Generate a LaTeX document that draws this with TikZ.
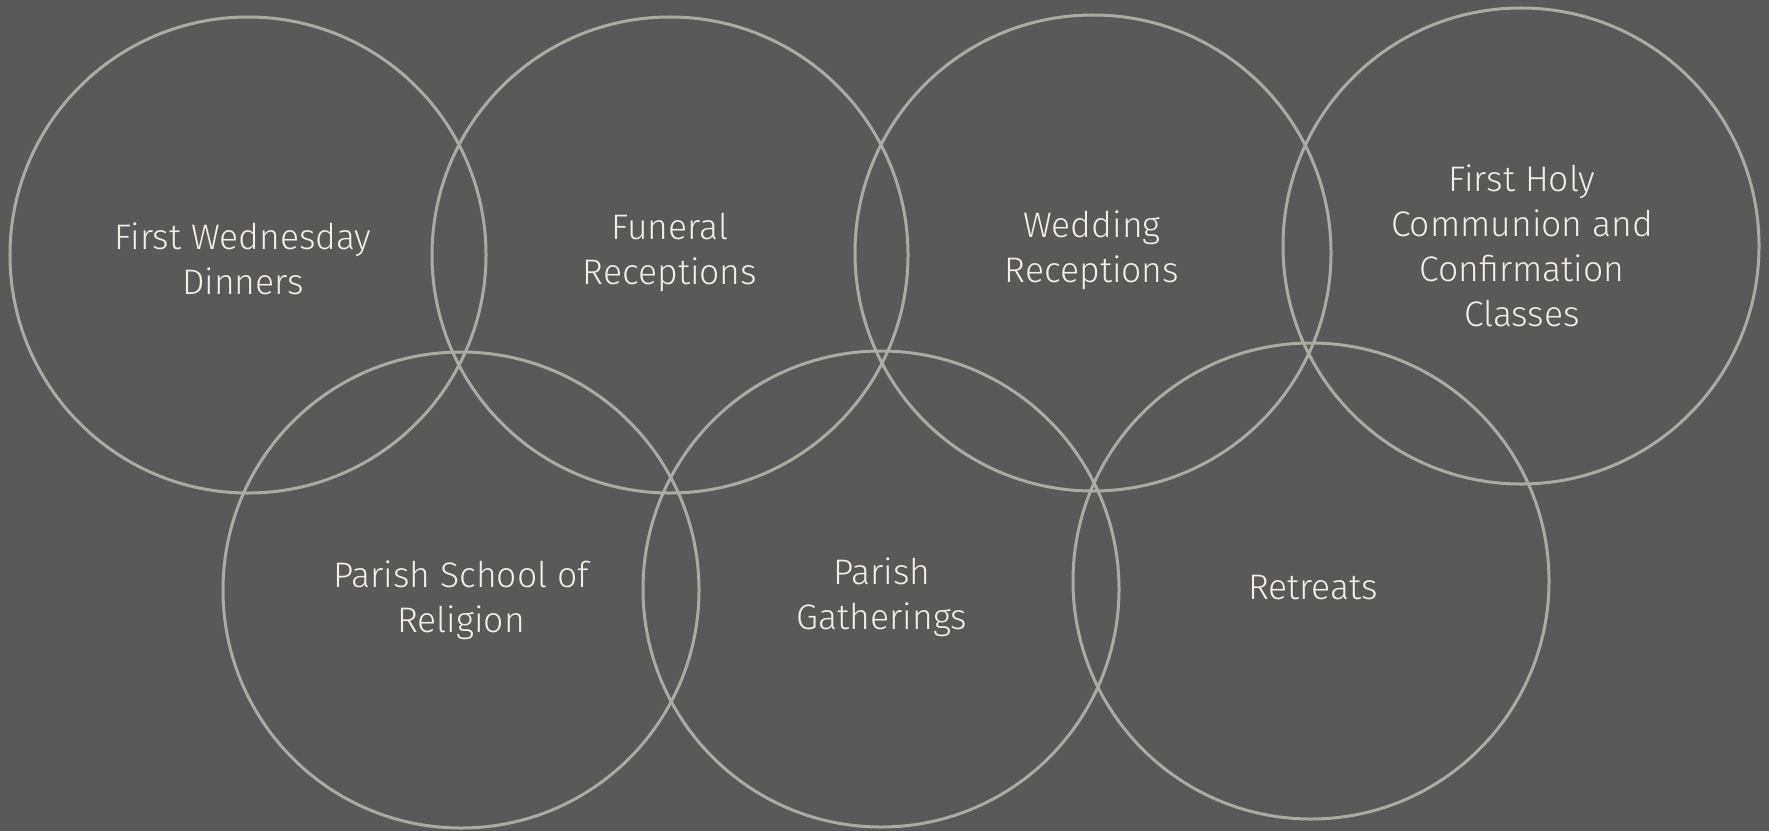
\documentclass[tikz,border=0pt]{standalone}
\usepackage{fontspec}
\setmainfont{Fira Sans}[UprightFont=* Light]
\definecolor{bg}{HTML}{595959}
\definecolor{ringcol}{HTML}{ABABA3}
\definecolor{txtcol}{HTML}{F0EEE6}
\begin{document}
\begin{tikzpicture}[x=1bp,y=-1bp,
  ring/.style={circle,draw=ringcol,line width=3bp,minimum size=476bp,inner sep=0pt},
  lbl/.style={align=center,text=txtcol,font=\fontsize{35.5bp}{45bp}\selectfont,inner sep=0pt}]
\fill[bg] (0,0) rectangle (1769,831);
\useasboundingbox (0,0) rectangle (1769,831);
\node[ring] (c1) at (248,255) {};
\node[ring] (c2) at (670,255) {};
\node[ring] (c3) at (1093,253) {};
\node[ring] (c4) at (1521,246) {};
\node[ring] (c5) at (461,590) {};
\node[ring] (c6) at (881,589) {};
\node[ring] (c7) at (1311,581) {};
\node[lbl] (t1) at (243,259) {First Wednesday\\Dinners};
\node[lbl] (t2) at (670,252) {Funeral\\Receptions};
\node[lbl] (t3) at (1092,250) {Wedding\\Receptions};
\node[lbl] (t4) at (1522,246) {First Holy\\Communion and\\Confirmation\\Classes};
\node[lbl] (t5) at (461,600) {Parish School of\\Religion};
\node[lbl] (t6) at (882,597) {Parish\\Gatherings};
\node[lbl] (t7) at (1313,588) {Retreats};
\end{tikzpicture}
\end{document}
